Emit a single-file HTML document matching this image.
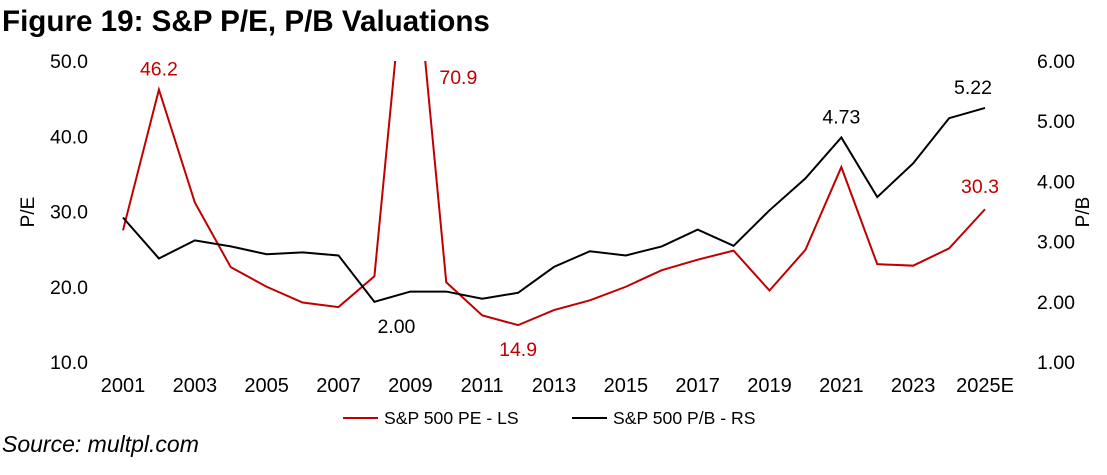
<!DOCTYPE html>
<html><head><meta charset="utf-8"><style>
body{margin:0;background:#fff;width:1107px;height:470px;overflow:hidden;font-family:"Liberation Sans",Arial,sans-serif}
</style></head><body>
<svg id="chart" width="1107" height="470" xmlns="http://www.w3.org/2000/svg" font-family="Liberation Sans, Arial, sans-serif">
<text x="2" y="31" font-size="29.6" font-weight="bold" fill="#000">Figure 19: S&amp;P P/E, P/B Valuations</text>
<text x="2" y="452" font-size="23" font-style="italic" fill="#000">Source: multpl.com</text>
<text transform="translate(34,212) rotate(-90)" text-anchor="middle" font-size="19">P/E</text>
<text transform="translate(1089,212) rotate(-90)" text-anchor="middle" font-size="19">P/B</text>
<g id="axes"></g>
<defs><clipPath id="clip"><rect x="100" y="61" width="920" height="320"/></clipPath></defs>
<g id="series" clip-path="url(#clip)"></g>
<g id="labels"></g>
<line x1="343" y1="418" x2="378" y2="418" stroke="#c00000" stroke-width="2"/>
<text x="384" y="424" font-size="17.6">S&amp;P 500 PE - LS</text>
<line x1="572" y1="418" x2="607" y2="418" stroke="#000" stroke-width="2"/>
<text x="613" y="424" font-size="17.6">S&amp;P 500 P/B - RS</text>
</svg>
<script>
const years=["2001","2002","2003","2004","2005","2006","2007","2008","2009","2010","2011","2012","2013","2014","2015","2016","2017","2018","2019","2020","2021","2022","2023","2024","2025E"];
const peValues=[27.5,46.2,31.2,22.6,20.0,17.9,17.3,21.4,70.9,20.6,16.2,14.9,16.9,18.2,20.0,22.2,23.6,24.8,19.5,24.9,35.9,23.0,22.8,25.1,30.3];
const pbValues=[3.40,2.72,3.02,2.92,2.79,2.82,2.77,2.00,2.17,2.17,2.05,2.15,2.58,2.84,2.77,2.92,3.20,2.93,3.52,4.05,4.73,3.74,4.30,5.05,5.22];
const leftTicks=[10,20,30,40,50];
const rightTicks=[1,2,3,4,5,6];
const xTickLabels=["2001","2003","2005","2007","2009","2011","2013","2015","2017","2019","2021","2023","2025E"];
const ns="http://www.w3.org/2000/svg";
const x0=123,x1=985,yTop=61,yBot=362;
function xs(i){return x0+(x1-x0)*i/(years.length-1);}
function yl(v){return yBot-(v-10)/40*(yBot-yTop);}
function yr(v){return yBot-(v-1)/5*(yBot-yTop);}
function el(t,a,p,txt){const e=document.createElementNS(ns,t);for(const k in a)e.setAttribute(k,a[k]);if(txt!==undefined)e.textContent=txt;p.appendChild(e);return e;}
const axes=document.getElementById('axes'),series=document.getElementById('series'),labels=document.getElementById('labels');
leftTicks.forEach(v=>{const t=el('text',{x:88,y:yl(v)+7,'text-anchor':'end','font-size':19.5},axes,v.toFixed(1));

});
rightTicks.forEach(v=>{const t=el('text',{x:1037,y:yr(v)+7,'font-size':19.5},axes,v.toFixed(2));

});
xTickLabels.forEach(lbl=>{const i=years.indexOf(lbl);const t=el('text',{x:xs(i),y:392,'text-anchor':'middle','font-size':20},axes,lbl);

});
const pe=el('polyline',{points:peValues.map((v,i)=>xs(i)+','+yl(v)).join(' '),fill:'none',stroke:'#c00000','stroke-width':2},series);


const pb=el('polyline',{points:pbValues.map((v,i)=>xs(i)+','+yr(v)).join(' '),fill:'none',stroke:'#000','stroke-width':2},series);


function lab(txt,x,y,c,name){const t=el('text',{x:x,y:y,'text-anchor':'middle','font-size':19.5,fill:c},labels,txt);

}
lab(peValues[1].toFixed(1),xs(1),yl(peValues[1])-14,'#c00000','pe-label-2002');
lab(peValues[8].toFixed(1),xs(8)+48,84,'#c00000','pe-label-2009');
lab(peValues[11].toFixed(1),xs(11),yl(peValues[11])+31,'#c00000','pe-label-2012');
lab(peValues[24].toFixed(1),xs(24)-5,yl(peValues[24])-16,'#c00000','pe-label-2025');
lab(pbValues[7].toFixed(2),xs(7)+22,yr(pbValues[7])+31,'#000','pb-label-2008');
lab(pbValues[20].toFixed(2),xs(20),yr(pbValues[20])-14,'#000','pb-label-2021');
lab(pbValues[24].toFixed(2),xs(24)-12,yr(pbValues[24])-14,'#000','pb-label-2025');
</script>
</body></html>
